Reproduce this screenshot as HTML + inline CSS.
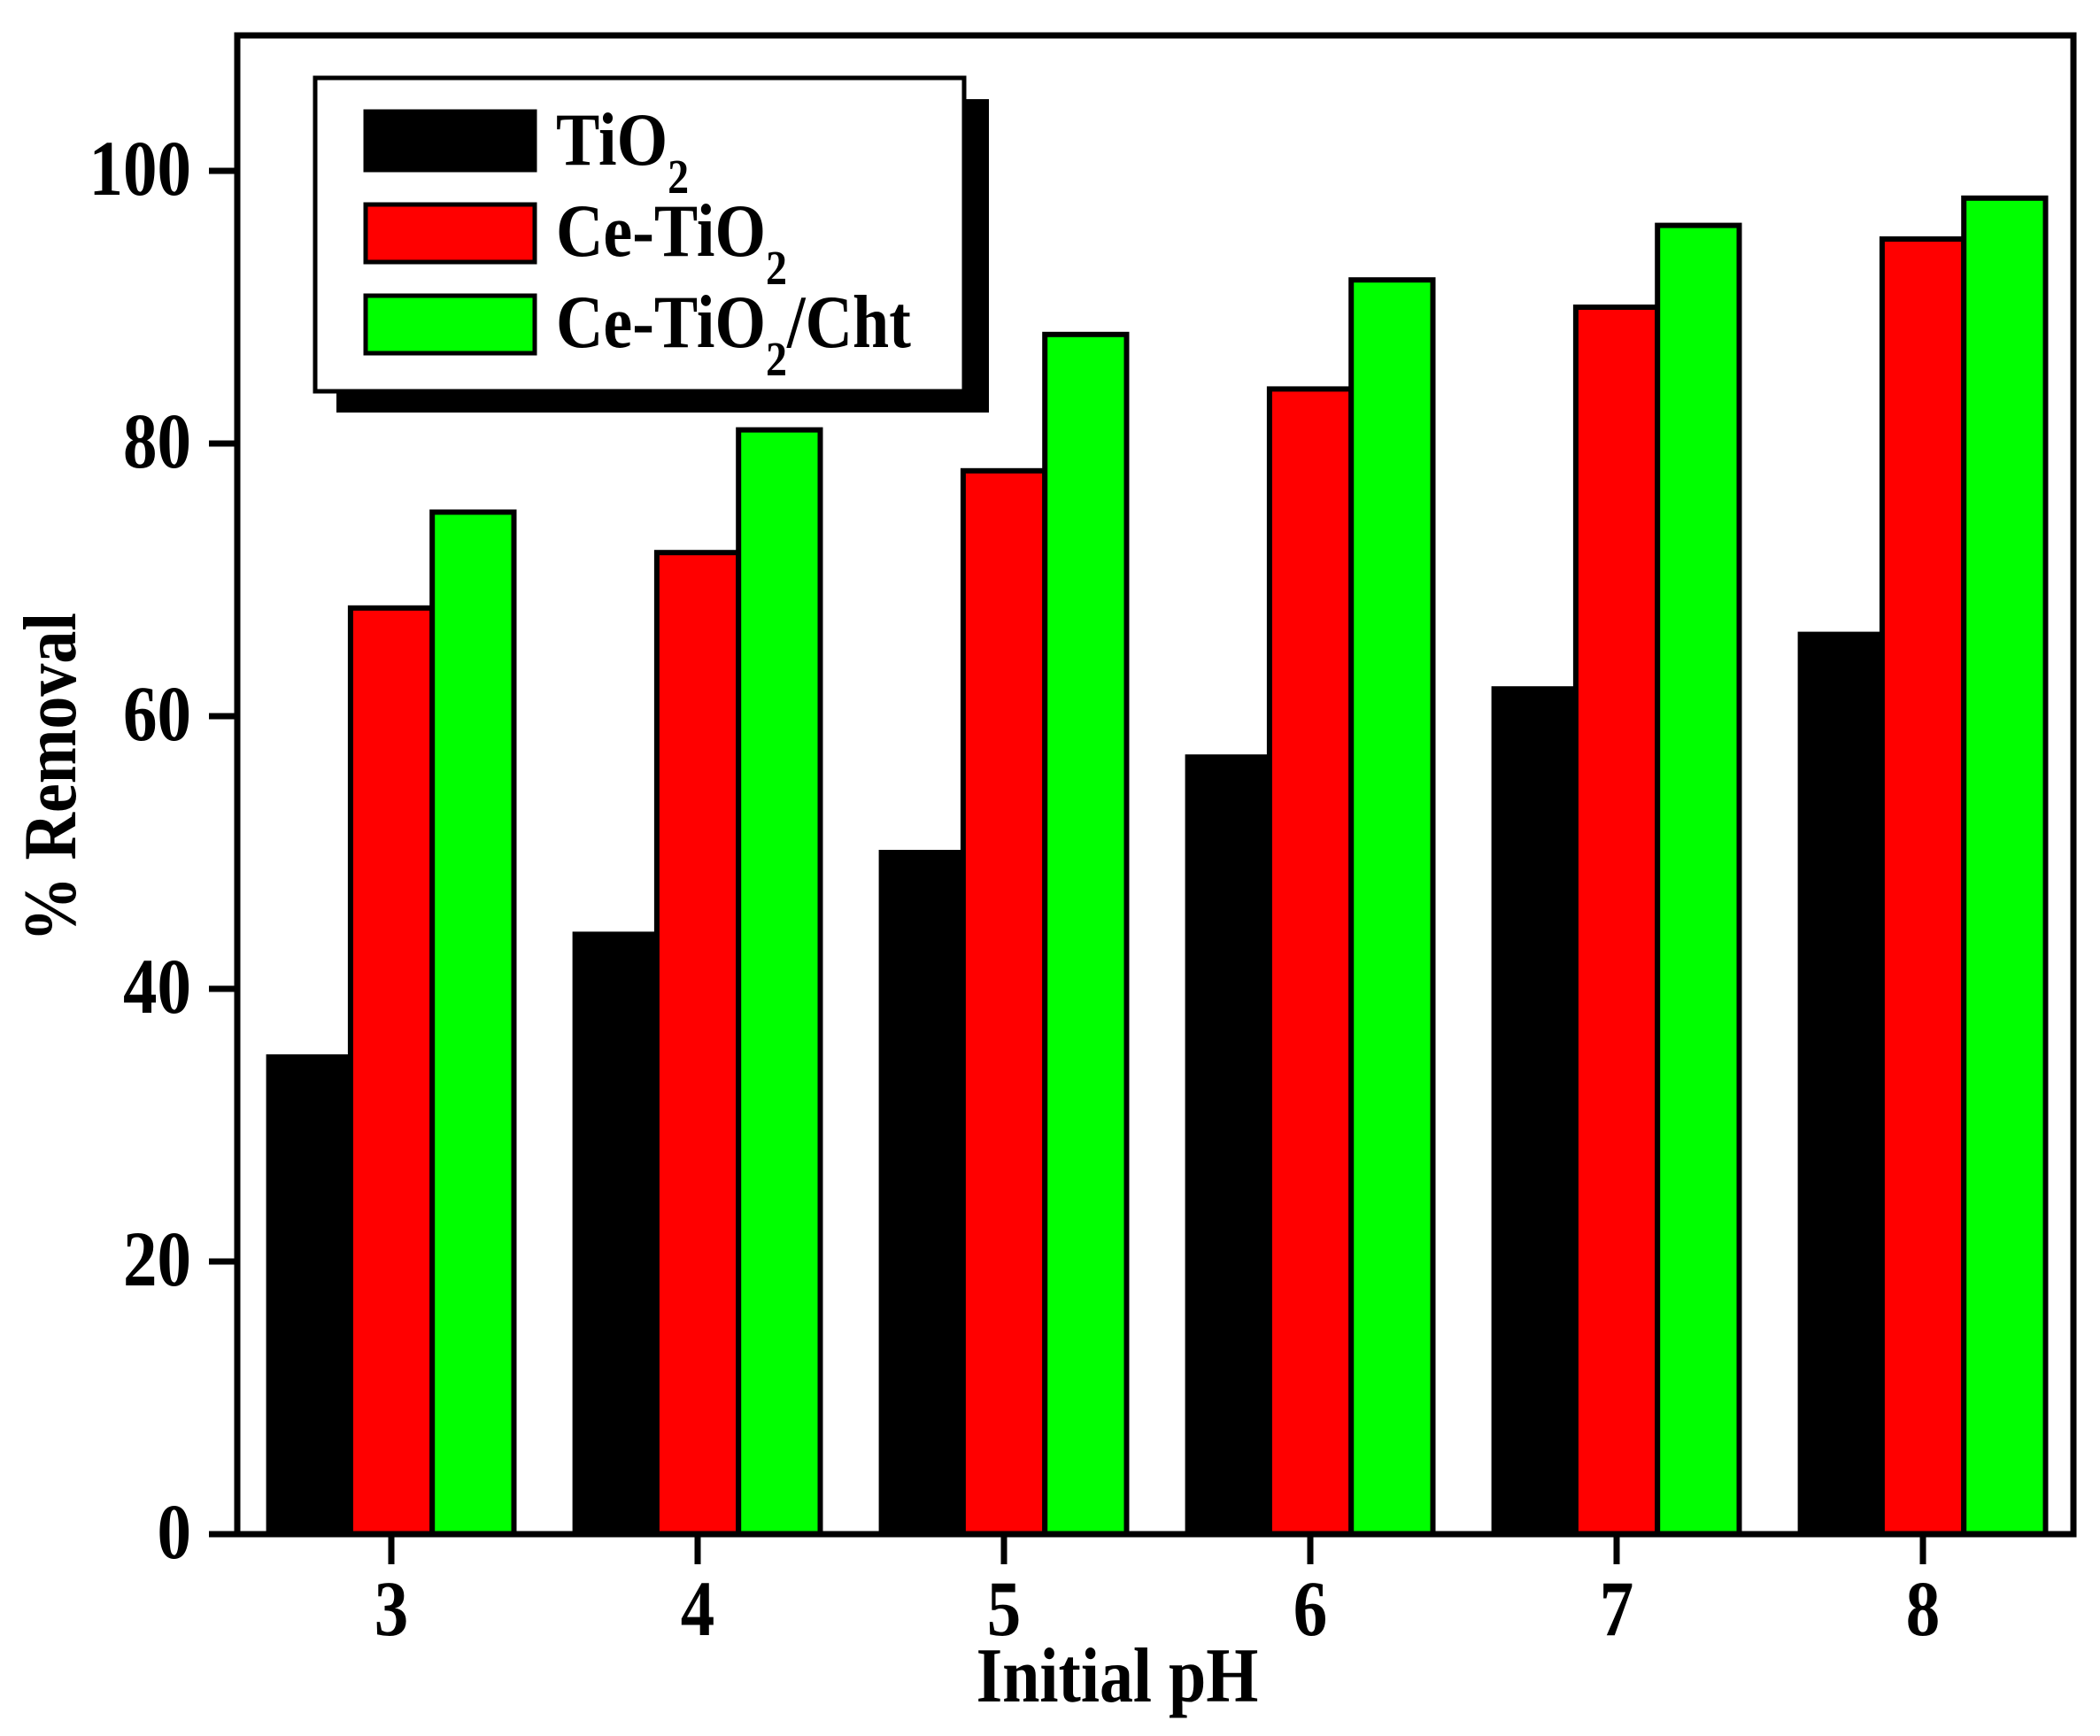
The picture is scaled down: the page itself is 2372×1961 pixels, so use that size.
<!DOCTYPE html>
<html><head><meta charset="utf-8"><style>
html,body{margin:0;padding:0;background:#fff;}
svg{display:block;}
text{font-family:"Liberation Serif",serif;font-weight:bold;fill:#000;}
</style></head><body>
<svg width="2372" height="1961" viewBox="0 0 2372 1961" xmlns="http://www.w3.org/2000/svg">
<rect width="2372" height="1961" fill="#fff"/>
<g stroke="#000" stroke-width="6">
<rect x="303.6" y="1194" width="92.3" height="539" fill="#000"/>
<rect x="395.9" y="686.8" width="92.3" height="1046.2" fill="#ff0000"/>
<rect x="488.2" y="578.5" width="92.3" height="1154.5" fill="#00ff00"/>
<rect x="649.6" y="1055.4" width="92.3" height="677.6" fill="#000"/>
<rect x="741.9" y="624.2" width="92.3" height="1108.8" fill="#ff0000"/>
<rect x="834.2" y="485.6" width="92.3" height="1247.4" fill="#00ff00"/>
<rect x="995.6" y="963" width="92.3" height="770" fill="#000"/>
<rect x="1087.9" y="531.8" width="92.3" height="1201.2" fill="#ff0000"/>
<rect x="1180.2" y="377.8" width="92.3" height="1355.2" fill="#00ff00"/>
<rect x="1341.6" y="855.2" width="92.3" height="877.8" fill="#000"/>
<rect x="1433.9" y="439.4" width="92.3" height="1293.6" fill="#ff0000"/>
<rect x="1526.2" y="316.2" width="92.3" height="1416.8" fill="#00ff00"/>
<rect x="1687.6" y="778.2" width="92.3" height="954.8" fill="#000"/>
<rect x="1779.9" y="347" width="92.3" height="1386" fill="#ff0000"/>
<rect x="1872.2" y="254.6" width="92.3" height="1478.4" fill="#00ff00"/>
<rect x="2033.6" y="716.6" width="92.3" height="1016.4" fill="#000"/>
<rect x="2125.9" y="270" width="92.3" height="1463" fill="#ff0000"/>
<rect x="2218.2" y="223.8" width="92.3" height="1509.2" fill="#00ff00"/>
</g>
<rect x="268" y="40" width="2074" height="1693" fill="none" stroke="#000" stroke-width="7"/>
<g stroke="#000" stroke-width="7">
<line x1="236" y1="1733" x2="268" y2="1733"/>
<line x1="236" y1="1425" x2="268" y2="1425"/>
<line x1="236" y1="1117" x2="268" y2="1117"/>
<line x1="236" y1="809" x2="268" y2="809"/>
<line x1="236" y1="501" x2="268" y2="501"/>
<line x1="236" y1="193" x2="268" y2="193"/>
<line x1="442" y1="1733" x2="442" y2="1767"/>
<line x1="788" y1="1733" x2="788" y2="1767"/>
<line x1="1134" y1="1733" x2="1134" y2="1767"/>
<line x1="1480" y1="1733" x2="1480" y2="1767"/>
<line x1="1826" y1="1733" x2="1826" y2="1767"/>
<line x1="2172" y1="1733" x2="2172" y2="1767"/>
</g>
<g font-size="77" text-anchor="end">
<text transform="translate(216,1760) scale(1,1.15)">0</text>
<text transform="translate(216,1452) scale(1,1.15)">20</text>
<text transform="translate(216,1144) scale(1,1.15)">40</text>
<text transform="translate(216,836) scale(1,1.15)">60</text>
<text transform="translate(216,528) scale(1,1.15)">80</text>
<text transform="translate(216,220) scale(1,1.15)">100</text>
</g>
<g font-size="77" text-anchor="middle">
<text transform="translate(442,1847) scale(1,1.15)">3</text>
<text transform="translate(788,1847) scale(1,1.15)">4</text>
<text transform="translate(1134,1847) scale(1,1.15)">5</text>
<text transform="translate(1480,1847) scale(1,1.15)">6</text>
<text transform="translate(1826,1847) scale(1,1.15)">7</text>
<text transform="translate(2172,1847) scale(1,1.15)">8</text>
<text transform="translate(1262,1922) scale(1,1.15)" font-size="76">Initial pH</text>
<text transform="translate(85,878) rotate(-90) scale(1,1.15)" font-size="74">% Removal</text>
</g>
<rect x="380" y="112" width="737" height="354" fill="#000"/>
<rect x="356" y="88" width="733" height="354" fill="#fff" stroke="#000" stroke-width="5"/>
<rect x="413" y="126" width="191" height="66" fill="#000" stroke="#000" stroke-width="5"/>
<rect x="413" y="231" width="191" height="65" fill="#ff0000" stroke="#000" stroke-width="5"/>
<rect x="413" y="334" width="191" height="65" fill="#00ff00" stroke="#000" stroke-width="5"/>
<g font-size="74">
<text transform="translate(628,186) scale(1,1.15)">TiO<tspan font-size="48" dy="28">2</tspan></text>
<text transform="translate(628,289) scale(1,1.15)">Ce-TiO<tspan font-size="48" dy="28">2</tspan></text>
<text transform="translate(628,392) scale(1,1.15)">Ce-TiO<tspan font-size="48" dy="28">2</tspan><tspan dy="-28">/Cht</tspan></text>
</g>
</svg>
</body></html>
